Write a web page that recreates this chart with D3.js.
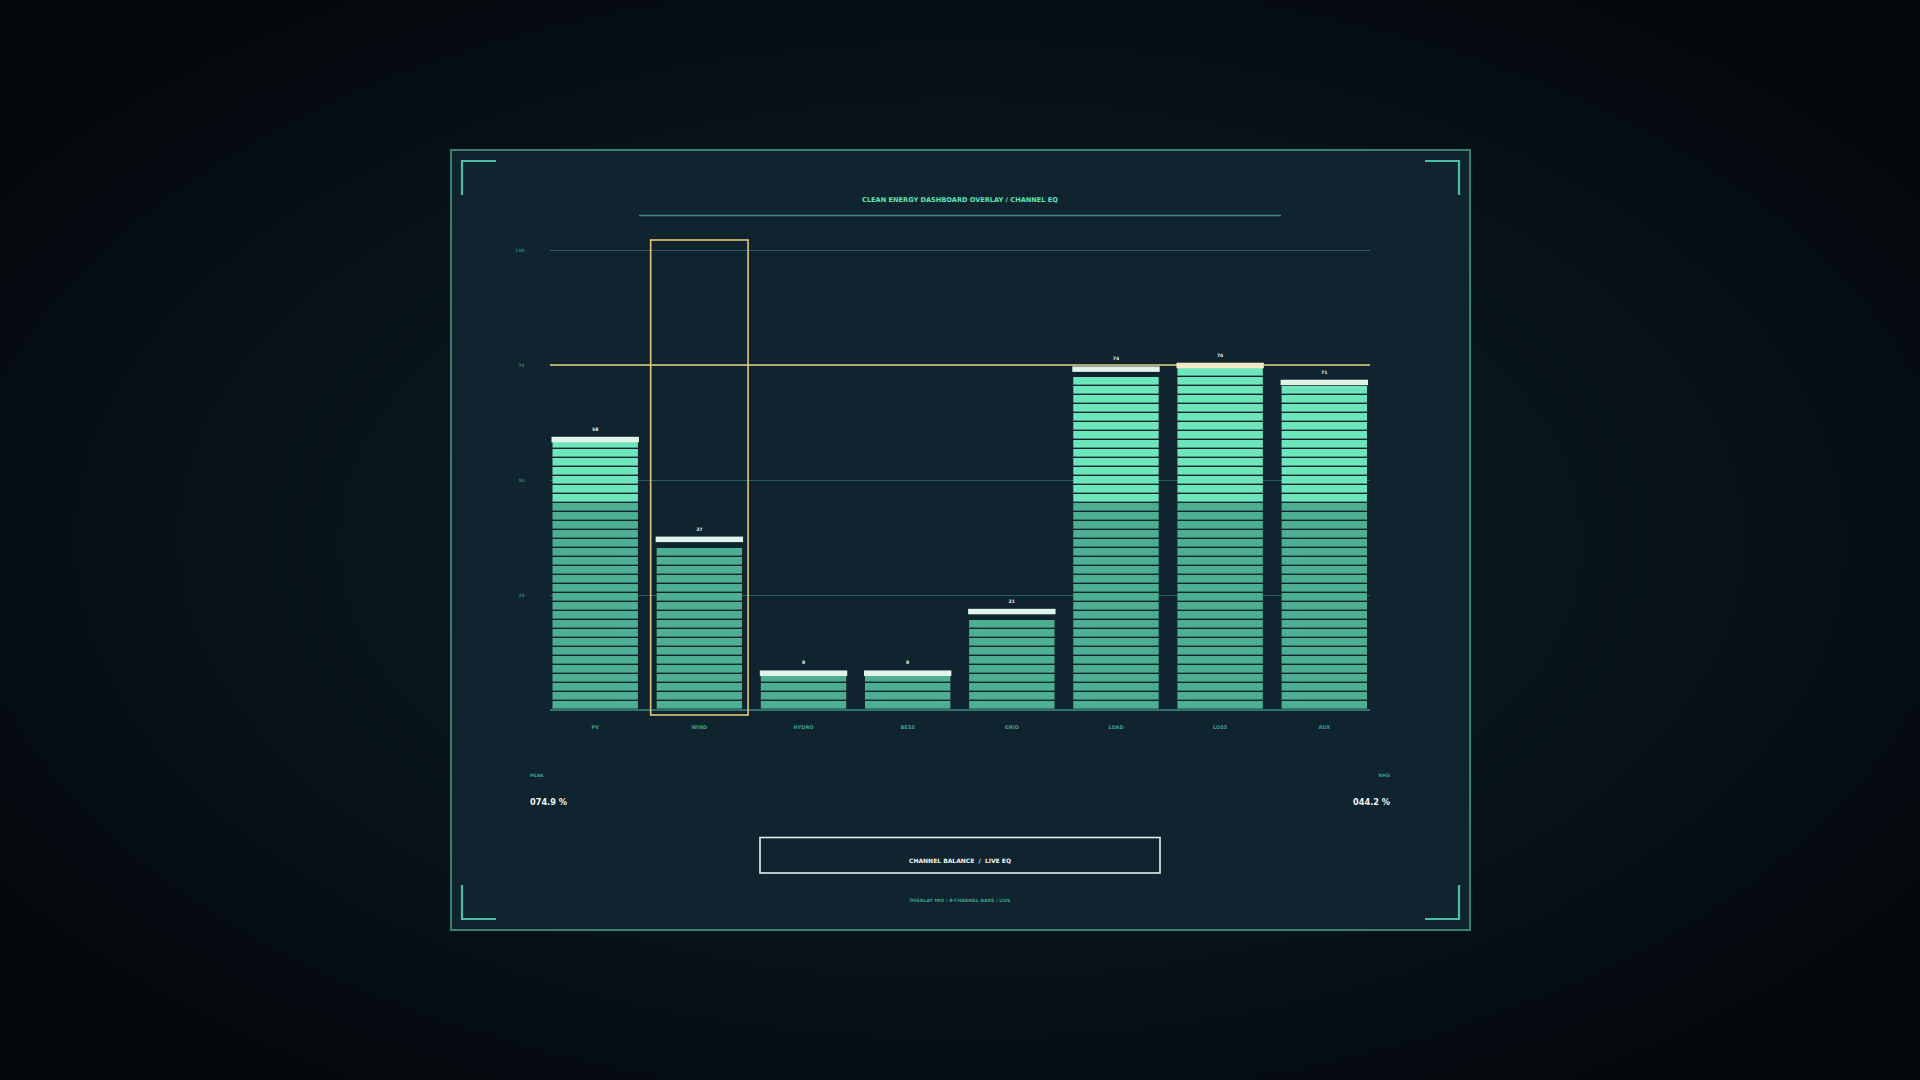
<!DOCTYPE html>
<html>
<head>
<meta charset="utf-8">
<script src="https://cdn.jsdelivr.net/npm/d3@7"></script>
<style>
  html, body { margin: 0; padding: 0; width: 1920px; height: 1080px; overflow: hidden; background: #060c11; }
  svg { display: block; }
  text { font-family: "DejaVu Sans", sans-serif; font-weight: bold; }
</style>
</head>
<body>
<svg id="chart" width="1920" height="1080"></svg>
<script>
// ---- data ----
const categories = ["PV", "WIND", "HYDRO", "BESS", "GRID", "LOAD", "LOSS", "AUX"];
const values = [58.8, 37.1, 8.0, 8.0, 21.4, 74.1, 74.9, 71.2];
const yTicks = [25, 50, 75, 100];
const thresholdValue = 75;
const splitValue = 45;
const focusCategory = "WIND";
const titleText = "CLEAN ENERGY DASHBOARD OVERLAY / CHANNEL EQ";
const buttonText = "CHANNEL BALANCE  /  LIVE EQ";
const footerText = "OVERLAY MIX / 8-CHANNEL BARS / LIVE";
const statLabels = ["PEAK", "RMS"];

// ---- layout ----
const W = 1920, H = 1080;
const card = { x: 451, y: 150, w: 1019, h: 780 };
const plot = { left: 550, right: 1370, top: 250, bottom: 710 };
const segPx = 9, segGap = 1.4, capH = 5.5;

const svg = d3.select("#chart");
const defs = svg.append("defs");
const bg = defs.append("radialGradient").attr("id", "bg").attr("cx", "50%").attr("cy", "50%").attr("r", "62%");
bg.append("stop").attr("offset", "0%").attr("stop-color", "#0e1d25");
bg.append("stop").attr("offset", "60%").attr("stop-color", "#08131a");
bg.append("stop").attr("offset", "100%").attr("stop-color", "#04080c");
svg.append("rect").attr("width", W).attr("height", H).attr("fill", "url(#bg)");

// card
svg.append("rect").attr("x", card.x).attr("y", card.y).attr("width", card.w).attr("height", card.h)
  .attr("fill", "#10242f").attr("stroke", "#35806f").attr("stroke-width", 2);

// corner brackets
const inset = 11, blen = 34;
const corners = [
  [card.x + inset, card.y + inset, 1, 1],
  [card.x + card.w - inset, card.y + inset, -1, 1],
  [card.x + inset, card.y + card.h - inset, 1, -1],
  [card.x + card.w - inset, card.y + card.h - inset, -1, -1]
];
corners.forEach(([cx, cy, sx, sy]) => {
  svg.append("path")
    .attr("d", `M${cx + sx * blen},${cy} L${cx},${cy} L${cx},${cy + sy * blen}`)
    .attr("fill", "none").attr("stroke", "#4cbfa3").attr("stroke-width", 2.2);
});

// title
svg.append("text").attr("x", 960).attr("y", 200).attr("text-anchor", "middle")
  .attr("dominant-baseline", "central").attr("font-size", 6.6).attr("fill", "#5fe3b9").text(titleText);
svg.append("line").attr("x1", 639).attr("x2", 1281).attr("y1", 215.5).attr("y2", 215.5)
  .attr("stroke", "#3b8a80").attr("stroke-width", 1.5);

// scales
const y = d3.scaleLinear().domain([0, 100]).range([plot.bottom, plot.top]);
const x = d3.scaleBand().domain(categories).range([552.5, 1367]).paddingInner(0.18).paddingOuter(0);
const bw = x.bandwidth();

// grid + y labels
const yAxis = d3.axisLeft(y).tickValues(yTicks).tickSize(-(plot.right - plot.left)).tickPadding(25.5);
const gy = svg.append("g").attr("transform", `translate(${plot.left},0)`).call(yAxis);
gy.select(".domain").remove();
gy.selectAll(".tick line").attr("stroke", "#2a5a5c").attr("stroke-width", 1);
gy.selectAll(".tick text").attr("font-size", 4.4).attr("fill", "#2f7c70")
  .attr("font-family", "DejaVu Sans, sans-serif").attr("font-weight", "bold");

// baseline
svg.append("line").attr("x1", plot.left).attr("x2", plot.right).attr("y1", y(0)).attr("y2", y(0))
  .attr("stroke", "#3b8c80").attr("stroke-width", 1.5);

// threshold line
svg.append("line").attr("x1", plot.left).attr("x2", plot.right).attr("y1", y(thresholdValue)).attr("y2", y(thresholdValue))
  .attr("stroke", "#e8cd80").attr("stroke-width", 1.6);

// focus highlight
svg.append("rect")
  .attr("x", x(focusCategory) - 6).attr("width", bw + 12)
  .attr("y", y(100) - 10).attr("height", (y(0) + 5) - (y(100) - 10))
  .attr("fill", "none").attr("stroke", "#e5c677").attr("stroke-width", 1.6);

// bars as segments
const splitPx = y(0) - y(splitValue);
const maxV = d3.max(values);
const bars = svg.append("g");
categories.forEach((c, i) => {
  const v = values[i];
  const k = Math.floor((y(0) - y(v)) / segPx);
  const segs = d3.range(k);
  bars.selectAll(null).data(segs).enter().append("rect")
    .attr("x", x(c)).attr("width", bw)
    .attr("y", j => y(0) - segPx * (j + 1))
    .attr("height", segPx - segGap)
    .attr("fill", j => (j * segPx >= splitPx - 0.5) ? "#6ee6bb" : "#4daf91");
  // peak cap
  bars.append("rect").attr("x", x(c) - 1).attr("width", bw + 2)
    .attr("y", y(v) - capH / 2).attr("height", capH)
    .attr("fill", v === maxV ? "#efe9c6" : "#e2f4ea");
  // value label
  bars.append("text").attr("x", x(c) + bw / 2).attr("y", y(v) - capH / 2 - 6)
    .attr("text-anchor", "middle").attr("font-size", 4.6).attr("fill", "#e4efea")
    .text(Math.floor(v));
});

// x axis labels
const xAxis = d3.axisBottom(x).tickSize(0).tickPadding(15);
const gx = svg.append("g").attr("transform", `translate(0,${y(0)})`).call(xAxis);
gx.select(".domain").remove();
gx.selectAll(".tick text").attr("font-size", 5).attr("fill", "#3d9e8b")
  .attr("font-family", "DejaVu Sans, sans-serif").attr("font-weight", "bold");

// stats
const fmt = d3.format("05.1f");
const peak = d3.max(values);
const meanV = d3.mean(values);
svg.append("text").attr("x", 530).attr("y", 775.5).attr("dominant-baseline", "central")
  .attr("font-size", 4.6).attr("fill", "#3d9e8b").text(statLabels[0]);
svg.append("text").attr("x", 530).attr("y", 802).attr("dominant-baseline", "central")
  .attr("font-size", 8.2).attr("fill", "#eef6f2").text(fmt(peak) + " %");
svg.append("text").attr("x", 1390).attr("y", 775.5).attr("dominant-baseline", "central").attr("text-anchor", "end")
  .attr("font-size", 4.6).attr("fill", "#3d9e8b").text(statLabels[1]);
svg.append("text").attr("x", 1390).attr("y", 802).attr("dominant-baseline", "central").attr("text-anchor", "end")
  .attr("font-size", 8.2).attr("fill", "#eef6f2").text(fmt(meanV) + " %");

// button
svg.append("rect").attr("x", 760).attr("y", 837.5).attr("width", 400).attr("height", 35.5)
  .attr("fill", "none").attr("stroke", "#e0f3ec").attr("stroke-width", 1.6);
svg.append("text").attr("x", 960).attr("y", 860).attr("text-anchor", "middle").attr("dominant-baseline", "central")
  .attr("font-size", 6).attr("fill", "#eef6f2").style("white-space", "pre").text(buttonText);
svg.append("text").attr("x", 960).attr("y", 900.5).attr("text-anchor", "middle").attr("dominant-baseline", "central")
  .attr("font-size", 4.6).attr("fill", "#3d9e8b").text(footerText);
</script>
</body>
</html>
